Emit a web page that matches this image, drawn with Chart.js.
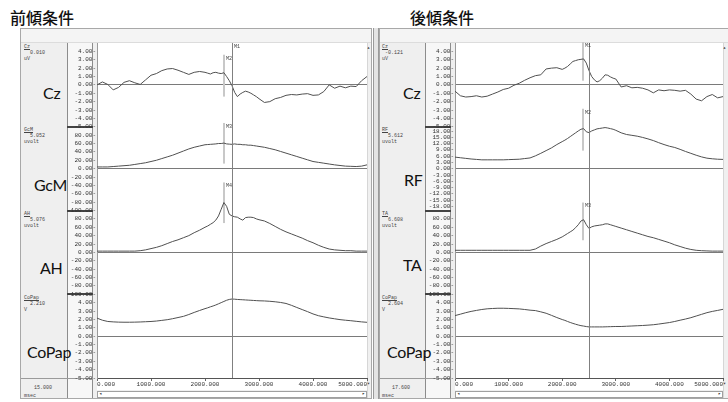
<!DOCTYPE html>
<html lang="ja">
<head>
<meta charset="utf-8">
<title>前傾条件 / 後傾条件</title>
<script src="https://cdn.jsdelivr.net/npm/chart.js@4.4.0/dist/chart.umd.min.js"></script>
<style>
html,body{margin:0;padding:0}
body{width:728px;height:402px;position:relative;overflow:hidden;background:#fff;font-family:"Liberation Mono",monospace;color:#333}
.a{position:absolute;box-sizing:border-box}
.title{font-family:"Noto Sans CJK JP";font-size:16px;line-height:16px;font-weight:500;color:#111}
.frame{border:1px solid #a8a8a8;background:#efefef}
.strip{background:#f4f4f4;border-bottom:1px solid #dcdcdc}
.tickbox{border-left:1px solid #8c8c8c;border-right:1px solid #8c8c8c;background:#f7f7f7}
.sep{height:2px;background:#444}
.plot{background:#fff}
.vs{background:#f0f0f0;border-left:1px solid #d6d6d6}
.hs{background:#fff;border:1px solid #a0a0a0}
.arr{font-size:5px;line-height:5px;color:#333}
.big{font-family:Lato,"Open Sans";font-size:16px;line-height:16px;color:#111;letter-spacing:-0.3px}
.sm{font-size:5px;line-height:6px;color:#444;white-space:pre}
.sm u{text-decoration:underline}
canvas{position:absolute}
</style>
</head>
<body>
<div class="a title" style="left:10px;top:9px">前傾条件</div>
<div class="a title" style="left:410px;top:9px">後傾条件</div>

<!-- left window -->
<div class="a frame" style="left:20px;top:28px;width:352px;height:371px"></div>
<div class="a strip" style="left:21px;top:29px;width:350px;height:14px"></div>
<div class="a tickbox" style="left:67px;top:43px;width:26px;height:355px"></div>
<div class="a sep" style="left:67px;top:126px;width:26px"></div>
<div class="a sep" style="left:67px;top:210px;width:26px"></div>
<div class="a sep" style="left:67px;top:293px;width:26px"></div>
<div class="a" style="left:21px;top:378px;width:72px;height:1px;background:#9a9a9a"></div>
<div class="a plot" style="left:97px;top:43px;width:270px;height:347px"></div>
<div class="a vs" style="left:367px;top:43px;width:4px;height:355px"></div>
<div class="a arr" style="left:367px;top:46px">▴</div>
<div class="a arr" style="left:367px;top:382px">▾</div>
<div class="a hs" style="left:97px;top:391px;width:270px;height:7px"></div>
<div class="a arr" style="left:99px;top:392px">◂</div>
<div class="a arr" style="left:362px;top:392px">▸</div>

<div class="a big" style="left:43px;top:85px">Cz</div>
<div class="a big" style="left:34px;top:177px">GcM</div>
<div class="a big" style="left:40px;top:260px">AH</div>
<div class="a big" style="left:27px;top:344px">CoPap</div>

<div class="a sm" style="left:24px;top:44px"><u>Cz</u>
  0.010
uV</div>
<div class="a sm" style="left:24px;top:127px"><u>GcM</u>
  5.052
uvolt</div>
<div class="a sm" style="left:24px;top:211px"><u>AH</u>
  5.076
uvolt</div>
<div class="a sm" style="left:24px;top:295px"><u>CoPap</u>
  2.210
V</div>
<div class="a sm" style="left:34px;top:385px">15.000</div>
<div class="a sm" style="left:24px;top:393px">msec</div>

<!-- right window -->
<div class="a" style="left:373px;top:28px;width:6px;height:371px;border-left:1px solid #9a9a9a;border-right:1px solid #9a9a9a;background:#e4e4e4"></div>
<div class="a frame" style="left:379px;top:28px;width:352px;height:371px"></div>
<div class="a strip" style="left:380px;top:29px;width:350px;height:14px"></div>
<div class="a tickbox" style="left:425px;top:43px;width:26px;height:355px"></div>
<div class="a sep" style="left:425px;top:126px;width:26px"></div>
<div class="a sep" style="left:425px;top:210px;width:26px"></div>
<div class="a sep" style="left:425px;top:293px;width:26px"></div>
<div class="a" style="left:380px;top:378px;width:71px;height:1px;background:#9a9a9a"></div>
<div class="a plot" style="left:455px;top:43px;width:268px;height:347px"></div>
<div class="a vs" style="left:723px;top:43px;width:5px;height:355px"></div>
<div class="a arr" style="left:723px;top:46px">▴</div>
<div class="a arr" style="left:723px;top:382px">▾</div>
<div class="a hs" style="left:455px;top:391px;width:268px;height:7px"></div>
<div class="a arr" style="left:457px;top:392px">◂</div>
<div class="a arr" style="left:718px;top:392px">▸</div>

<div class="a big" style="left:403px;top:85px">Cz</div>
<div class="a big" style="left:404px;top:172px">RF</div>
<div class="a big" style="left:403px;top:257px">TA</div>
<div class="a big" style="left:387px;top:344px">CoPap</div>

<div class="a sm" style="left:382px;top:44px"><u>Cz</u>
 -0.121
uV</div>
<div class="a sm" style="left:382px;top:127px"><u>RF</u>
  5.612
uvolt</div>
<div class="a sm" style="left:382px;top:211px"><u>TA</u>
  6.608
uvolt</div>
<div class="a sm" style="left:382px;top:295px"><u>CoPap</u>
  2.604
V</div>
<div class="a sm" style="left:392px;top:385px">17.600</div>
<div class="a sm" style="left:382px;top:393px">msec</div>

<canvas id="leftChart" width="310" height="353" style="left:60px;top:40px"></canvas>
<canvas id="rightChart" width="308" height="353" style="left:418px;top:40px"></canvas>

<script>
// 時間軸 (msec) - ピーク付近は細かめ
const times = [0,100,200,300,400,500,600,700,800,900,1000,1100,1200,1300,1400,1500,1600,1700,1800,1900,2000,
  2050,2100,2150,2200,2250,2300,2350,2400,2450,2500,2550,2600,2650,2700,2750,2800,2850,2900,2950,3000,
  3100,3200,3300,3400,3500,3600,3700,3800,3900,4000,4100,4200,4300,4400,4500,4600,4700,4800,4900,5000];

// 前傾条件
const frontCz = [0.0,0.35,0.05,-0.6,-0.3,0.3,0.5,0.25,0.05,0.6,1.15,1.35,1.7,1.9,1.95,1.75,1.5,1.25,1.5,1.6,1.5,
  1.4,1.3,1.45,1.5,1.4,1.35,1.45,1.0,0.5,-0.1,-0.9,-1.4,-1.1,-0.9,-0.75,-0.85,-1.0,-1.2,-1.4,-1.65,
  -2.1,-2.0,-1.65,-1.5,-1.25,-1.15,-1.2,-1.1,-1.05,-1.25,-1.2,-0.8,0.0,-0.4,-0.15,-0.35,-0.15,-0.2,0.5,1.0];
const frontGcM = [4,4,4,5,6,7,8,10,12,14,17,20,24,28,32,37,42,47,51,54,57,
  57.5,58,58.5,59,60,60,61,59,58.5,58,59,58,58,57,57,56,56,55,54,53,
  51,48,45,41,37,33,29,25,21,17,15,13,11,9,7.5,6,5.5,5,6,9];
const frontAH = [3,3,3,3,3,3,3,3,4,6,9,12,16,21,26,30,35,40,47,53,60,
  63,67,71,77,87,103,119,110,91,87,85,84,80,77,83,84,84,83,80,78,
  75,69,62,55,49,44,39,34,28,23,17,12,8,6,5,4,4,3,3,3];
const frontCoPap = [2.15,1.9,1.75,1.7,1.67,1.66,1.66,1.67,1.69,1.72,1.75,1.8,1.88,1.96,2.08,2.22,2.36,2.58,2.83,3.06,3.28,
  3.38,3.5,3.6,3.72,3.86,4.0,4.14,4.28,4.38,4.43,4.41,4.38,4.36,4.34,4.32,4.3,4.28,4.26,4.24,4.22,
  4.2,4.16,4.1,4.02,3.9,3.68,3.42,3.17,2.92,2.65,2.44,2.3,2.17,2.07,1.97,1.9,1.84,1.77,1.7,1.65];

// 後傾条件
const backCz = [-0.75,-1.3,-1.45,-1.4,-1.3,-1.45,-1.35,-1.1,-0.85,-0.55,-0.4,-0.05,0.2,0.55,0.85,1.1,1.2,1.9,2.0,2.05,1.85,
  2.0,2.2,2.5,2.8,2.9,3.0,3.05,3.1,2.6,1.7,1.0,0.6,0.35,0.5,0.8,1.2,1.15,0.95,0.8,0.7,
  -0.25,-0.1,-0.35,-0.3,-0.4,-0.6,-0.95,-0.6,-0.7,-0.6,-0.65,-0.75,-0.65,-1.1,-1.7,-1.9,-1.4,-1.15,-1.55,-1.4];
const backRF = [5.5,5.2,4.9,4.6,4.4,4.2,4.2,4.2,4.2,4.2,4.3,4.4,4.5,4.8,5.1,6.1,7.3,8.6,9.9,11.5,12.9,
  13.6,14.4,15.3,16.2,17.1,18.0,18.8,19.1,17.6,17.2,18.0,18.5,19.0,19.2,19.4,19.6,19.4,19.1,18.8,18.3,
  17.1,16.3,15.9,15.5,14.9,14.2,13.4,12.4,11.5,10.7,10.1,9.2,8.2,7.3,6.4,5.6,5.0,4.7,4.5,4.4];
const backTA = [5,5,5,5,5,5,5,5,5,5,5,5,5,5,5,8,15,21,26,31,37,
  41,45,49,53,59,66,75,78,66,57,61,63,64,65,66,68,68,66,64,62,
  58,54,50,46,42,38,35,31,27,23,18,14,10,7,5,4,3.5,3,3,3];
const backCoPap = [2.45,2.62,2.8,2.95,3.07,3.18,3.26,3.3,3.33,3.33,3.31,3.28,3.25,3.18,3.1,3.05,2.9,2.73,2.48,2.22,1.98,
  1.88,1.75,1.63,1.52,1.42,1.33,1.25,1.2,1.14,1.1,1.1,1.1,1.1,1.1,1.1,1.11,1.12,1.13,1.14,1.15,
  1.15,1.18,1.21,1.24,1.27,1.31,1.36,1.44,1.53,1.62,1.75,1.9,2.04,2.2,2.4,2.6,2.8,2.95,3.07,3.2];

// 目盛り
const czTicks = [4,3,2,1,0,-1,-2,-3,-4,-5];
const emgTicks = [80,60,40,20,0,-20,-40,-60,-80,-100];
const rfTicks = [18,15,12,9,6,3,0,-3,-6,-9,-12,-15,-18];
const copTicks = [4,3,2,1,0,-1,-2,-3,-4,-5];
const xTicks = [0,1000,2000,3000,4000,5000];

// カーソルとマーカー
const cursorMs = 2500;
const frontMarkerMs = 2350;
const frontMarkerSpans = [[3.6,-1.4],[109,12],[167,70]];
const frontMarkerText = ["M2","M3","M4"];
const backMarkerMs = 2380;
const backMarkerSpans = [[5.1,0.5],[28.6,8.6],[119,29]];
const backMarkerText = ["M1","M2","M3"];

const tickFont = { family: "Liberation Mono", size: 6 };

const cursorPlugin = {
  id: "cursor",
  beforeDatasetsDraw(chart, args, o) {
    const { ctx, scales } = chart;
    const mx = Math.round(scales.x.getPixelForValue(o.markerMs));
    ctx.save();
    ctx.fillStyle = "#c8c8c8";
    o.spans.forEach((sp, i) => {
      const s = scales["y" + i];
      const y0 = s.getPixelForValue(sp[0]), y1 = s.getPixelForValue(sp[1]);
      ctx.fillRect(mx - 1, y0, 2, y1 - y0);
    });
    ctx.restore();
  },
  afterDatasetsDraw(chart, args, o) {
    const { ctx, chartArea: a, scales } = chart;
    const cx = Math.round(scales.x.getPixelForValue(o.cursorMs)) + 0.5;
    const mx = Math.round(scales.x.getPixelForValue(o.markerMs));
    ctx.save();
    ctx.strokeStyle = "#808080";
    ctx.lineWidth = 1;
    ctx.beginPath();
    ctx.moveTo(cx, a.top);
    ctx.lineTo(cx, a.bottom);
    ctx.stroke();
    ctx.font = '5px "Liberation Mono"';
    ctx.fillStyle = "#444";
    ctx.textBaseline = "top";
    o.spans.forEach((sp, i) => {
      const y0 = scales["y" + i].getPixelForValue(sp[0]);
      ctx.fillText(o.texts[i], mx + 2, y0 + 1);
    });
    if (o.cursorText) ctx.fillText(o.cursorText, cx + 1.5, a.top + 1);
    ctx.restore();
  }
};

function drawPanel(canvasId, rows, markerMs, spans, texts, cursorText) {
  const scales = {
    x: {
      type: "linear", min: 0, max: 5000,
      afterBuildTicks: s => { s.ticks = xTicks.map(v => ({ value: v })); },
      afterFit: s => { s.height = 15; s.paddingLeft = 0; s.paddingRight = 0; },
      ticks: { font: tickFont, color: "#333", padding: 0, maxRotation: 0, autoSkip: false, align: "inner",
               callback: v => v.toFixed(3) },
      grid: { drawOnChartArea: false, tickLength: 3, color: "#666" },
      border: { display: true, color: "#555" }
    }
  };
  const datasets = [];
  rows.forEach((r, i) => {
    const key = "y" + i;
    scales[key] = {
      type: "linear", position: "left", stack: "rows", stackWeight: 1, weight: rows.length - i,
      min: -r.range, max: r.range,
      afterBuildTicks: s => { s.ticks = r.ticks.map(v => ({ value: v })); },
      afterFit: s => { s.width = 37; s.paddingTop = 0; s.paddingBottom = 0; },
      ticks: { autoSkip: false, padding: 1, font: tickFont, color: "#333",
               callback: v => v.toFixed(2) + "-" },
      grid: { drawTicks: false, color: c => (c.tick && c.tick.value === 0) ? "#7a7a7a" : "rgba(0,0,0,0)" },
      border: { display: true, color: "#9a9a9a" }
    };
    datasets.push({
      data: times.map((t, j) => ({ x: t, y: r.values[j] })),
      yAxisID: key,
      borderColor: "#505050",
      borderWidth: 1,
      pointRadius: 0,
      tension: 0,
      clip: false
    });
  });

  new Chart(document.getElementById(canvasId), {
    type: "line",
    data: { datasets },
    options: {
      responsive: false,
      animation: false,
      devicePixelRatio: 1,
      layout: { padding: { left: 0, right: 3, top: 3, bottom: 0 } },
      scales,
      plugins: {
        legend: { display: false },
        tooltip: { enabled: false },
        cursor: { cursorMs, markerMs, spans, texts, cursorText }
      }
    },
    plugins: [cursorPlugin]
  });
}

drawPanel("leftChart", [
  { values: frontCz, ticks: czTicks, range: 5 },
  { values: frontGcM, ticks: emgTicks, range: 100 },
  { values: frontAH, ticks: emgTicks, range: 100 },
  { values: frontCoPap, ticks: copTicks, range: 5 }
], frontMarkerMs, frontMarkerSpans, frontMarkerText, "M1");

drawPanel("rightChart", [
  { values: backCz, ticks: czTicks, range: 5 },
  { values: backRF, ticks: rfTicks, range: 20 },
  { values: backTA, ticks: emgTicks, range: 100 },
  { values: backCoPap, ticks: copTicks, range: 5 }
], backMarkerMs, backMarkerSpans, backMarkerText, "");
</script>
</body>
</html>
